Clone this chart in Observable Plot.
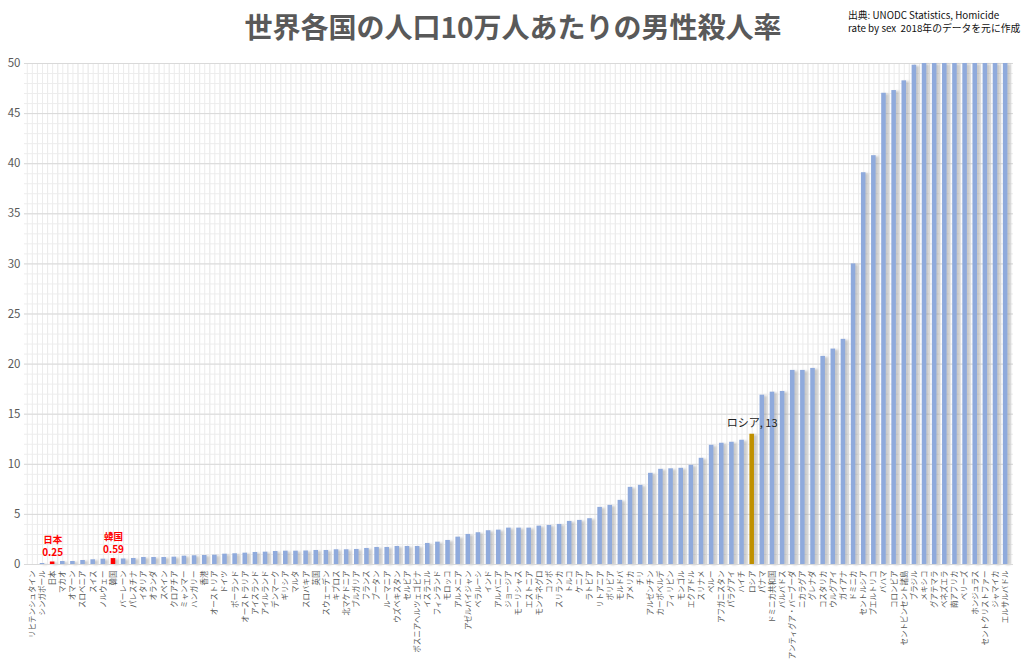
<!DOCTYPE html>
<html><head><meta charset="utf-8">
<script src="https://cdn.jsdelivr.net/npm/d3@7"></script>
<script src="https://cdn.jsdelivr.net/npm/@observablehq/plot@0.6"></script>
<style>
body{margin:0;background:#fff;font-family:"Noto Sans CJK JP","Noto Sans",sans-serif;}
#wrap{position:relative;width:1024px;height:668px;overflow:hidden;}
#title{position:absolute;left:0;width:1026px;top:6px;text-align:center;font-size:28px;font-weight:bold;color:#595959;line-height:40px;}
#src{position:absolute;left:848px;top:9px;font-size:9.8px;line-height:13px;color:#111;}
</style></head><body>
<div id="wrap"><div id="chart"></div>
<div id="title">世界各国の人口10万人あたりの男性殺人率</div>
<div id="src">出典: UNODC Statistics, Homicide<br>rate by sex&nbsp; 2018年のデータを元に作成</div>
</div>
<script>
const countries = ["リヒテンシュタイン","シンガポール","日本","マカオ","オマーン","スロベニア","スイス","ノルウェー","韓国","バーレーン","パレスチナ","イタリア","オランダ","スペイン","クロアチア","ミャンマー","ハンガリー","香港","オーストリア","ドイツ","ポーランド","オーストラリア","アイスランド","アイルランド","デンマーク","ギリシア","マルタ","スロバキア","英国","スウェーデン","キプロス","北マケドニア","ブルガリア","フランス","ブータン","ルーマニア","ウズベキスタン","セルビア","ボスニアヘルツェゴビナ","イスラエル","フィンランド","モロッコ","アルメニア","アゼルバイジャン","ベラルーシ","インド","アルバニア","ジョージア","モーリシャス","エストニア","モンテネグロ","コソボ","スリランカ","トルコ","ケニア","ラトビア","リトアニア","ボリビア","モルドバ","アメリカ","チリ","アルゼンチン","カーボベルデ","フィリピン","モンゴル","エクアドル","スリナメ","ペルー","アフガニスタン","パラグアイ","ハイチ","ロシア","パナマ","ドミニカ共和国","バルバドス","アンティグア・バーブーダ","ニカラグア","グレナダ","コスタリカ","ウルグアイ","ガイアナ","ドミニカ","セントルシア","プエルトリコ","バハマ","コロンビア","セントビンセント諸島","ブラジル","メキシコ","グアテマラ","ベネズエラ","南アフリカ","ベリーズ","ホンジュラス","セントクリストファー","ジャマイカ","エルサルバドル"];
const values = [0,0.1,0.25,0.3,0.3,0.4,0.47,0.53,0.59,0.55,0.6,0.7,0.7,0.7,0.73,0.83,0.87,0.9,0.93,1.03,1.07,1.13,1.2,1.23,1.3,1.33,1.33,1.35,1.4,1.4,1.47,1.47,1.5,1.6,1.7,1.7,1.8,1.8,1.8,2.1,2.23,2.4,2.73,3.0,3.17,3.37,3.43,3.63,3.63,3.63,3.83,3.9,4.0,4.3,4.4,4.57,5.7,5.9,6.4,7.7,7.9,9.1,9.5,9.55,9.6,9.9,10.6,11.9,12.1,12.2,12.4,13,16.9,17.2,17.27,19.37,19.37,19.57,20.77,21.5,22.47,30.0,39.1,40.8,47.03,47.3,48.27,49.83,50,50,50,50,50,50,50,50,50];
const yTicks = [0,5,10,15,20,25,30,35,40,45,50];
const minorY = d3.range(0,51);
const highlightNames = ["日本","韓国"];
const highlightValues = ["0.25","0.59"];
const russia = {country:"ロシア", label:"ロシア, 13"};

const data = countries.map((c,i)=>({country:c, value:values[i]}));
const valueOf = c => values[countries.indexOf(c)];
const colorOf = c => (c==="日本"||c==="韓国") ? "#ff0000" : (c==="ロシア" ? "#bf9000" : "#8faadc");
const hl = highlightNames.map((c,i)=>({country:c, name:c, val:highlightValues[i]}));

const W=1024, H=668, mL=24, mR=11, mT=63, mB=104, pad=0.55;
const step = (W-mL-mR)/(countries.length+pad);

const chart = Plot.plot({
  width:W, height:H, marginTop:mT, marginLeft:mL, marginRight:mR, marginBottom:mB,
  style:{fontFamily:'"Noto Sans CJK JP","Noto Sans",sans-serif', background:"transparent"},
  x:{domain:countries, padding:pad, round:false, axis:null, label:null},
  y:{domain:[0,50], axis:null, label:null},
  marks:[
    Plot.gridY(minorY, {stroke:"#ededed", strokeOpacity:1}),
    Plot.ruleX(countries, {x:d=>d, y1:0, y2:50, dx:-step/2, stroke:"#ececec"}),
    Plot.ruleX(countries, {x:d=>d, y1:0, y2:50, stroke:"#ececec"}),
    Plot.ruleX(countries, {x:d=>d, y1:0, y2:50, dx:step/2, stroke:"#ececec"}),
    Plot.gridY(yTicks, {stroke:"#d9d9d9", strokeOpacity:1}),
    Plot.barY(data, {x:"country", y:"value", fill:"#9a9a9a", fillOpacity:0.55, dx:3, dy:1}),
    Plot.barY(data, {x:"country", y:"value", fill:d=>colorOf(d.country)}),
    Plot.ruleY([0], {stroke:"#d9d9d9"}),
    Plot.axisY(yTicks, {tickSize:0, tickPadding:4, fontSize:11.5, fill:"#595959", label:null}),
    Plot.axisX({tickSize:0, tickPadding:6, tickRotate:-90, fontSize:7.5, fill:"#595959", label:null}),
    Plot.text(hl, {x:"country", y:d=>valueOf(d.country), text:"val", lineAnchor:"bottom", dy:-6, fill:"#ff0000", fontWeight:"bold", fontSize:10}),
    Plot.text(hl, {x:"country", y:d=>valueOf(d.country), text:"name", lineAnchor:"bottom", dy:-19, fill:"#ff0000", fontWeight:"bold", fontSize:9.5}),
    Plot.text([russia], {x:"country", y:d=>valueOf(d.country), text:"label", lineAnchor:"bottom", dy:-7, fill:"#222", fontSize:11})
  ]
});
const ns="http://www.w3.org/2000/svg";
const defs=document.createElementNS(ns,"defs");
defs.innerHTML='<filter id="sh" x="-50%" y="-5%" width="200%" height="110%"><feGaussianBlur stdDeviation="1.3"/></filter>';
chart.insertBefore(defs, chart.firstChild);
const bars=chart.querySelectorAll('g[aria-label="bar"]');
if(bars.length) bars[0].setAttribute("filter","url(#sh)");
document.getElementById("chart").appendChild(chart);
</script>
</body></html>
